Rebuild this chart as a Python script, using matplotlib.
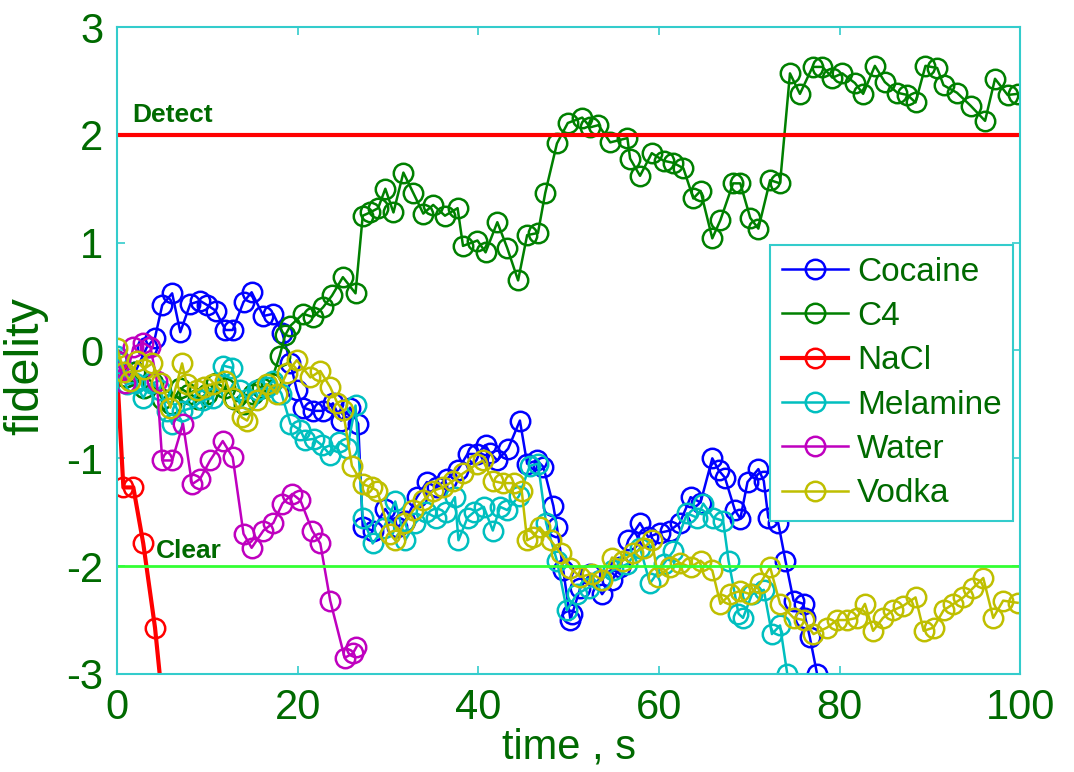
import matplotlib
matplotlib.use('Agg')
import matplotlib.pyplot as plt

plt.rcParams['font.family'] = ['Liberation Sans', 'DejaVu Sans']
plt.rcParams['axes.unicode_minus'] = False

# series (time s, fidelity)
cocaine_t = [0, 1, 2, 3.3, 4.2, 5.0, 6.1, 7.0, 8.1, 9.2,
             10.0, 10.9, 12.0, 12.8, 14.0, 14.9, 16.2, 17.3, 18.3, 19.2,
             19.9, 20.6, 21.7, 22.8, 23.9, 24.8, 25.8, 26.7, 27.2, 28.3,
             29.7, 31.0, 31.9, 33.2, 34.3, 35.4, 36.5, 37.7, 38.8, 39.9,
             40.8, 41.3, 42.1, 43.3, 44.6, 45.4, 46.5, 47.2, 48.3, 48.7,
             49.4, 50.2, 50.4, 51.3, 52.4, 53.7, 54.8, 55.7, 56.6, 57.9,
             58.8, 60.1, 61.2, 62.3, 63.5, 64.6, 65.9, 66.6, 67.3, 68.4,
             69.0, 69.8, 71.0, 71.6, 72.1, 73.2, 74.0, 74.9, 76.0, 76.2,
             76.7, 77.5, 78.2]
cocaine_y = [-0.1, -0.25, -0.2, 0.03, 0.12, 0.42, 0.53, 0.17, 0.43, 0.46,
             0.42, 0.37, 0.19, 0.19, 0.45, 0.54, 0.32, 0.34, 0.16, -0.12,
             -0.37, -0.53, -0.56, -0.56, -0.49, -0.65, -0.53, -0.68, -1.64, -1.67,
             -1.47, -1.64, -1.58, -1.36, -1.22, -1.27, -1.19, -1.11, -0.96, -0.96,
             -0.88, -0.95, -1.02, -0.91, -0.65, -1.05, -1.02, -1.08, -1.44, -1.64,
             -2.04, -2.5, -2.44, -2.2, -2.07, -2.26, -2.13, -2.01, -1.76, -1.6,
             -1.73, -1.69, -1.67, -1.6, -1.36, -1.41, -1.0, -1.11, -1.18, -1.48,
             -1.56, -1.22, -1.1, -1.21, -1.55, -1.6, -1.95, -2.32, -2.35, -2.48,
             -2.66, -3.0, -3.4]

c4_t = [0, 1, 2, 3, 4, 5, 6, 7, 8, 9,
        10, 11, 12, 13, 14, 15, 16, 17, 18, 18.6,
        19.2, 20.6, 21.7, 22.8, 23.8, 25.0, 26.4, 27.2, 28.0, 28.9,
        29.7, 30.6, 31.7, 32.8, 33.9, 35.0, 36.3, 37.7, 38.3, 39.9,
        40.8, 42.1, 43.2, 44.4, 45.4, 46.6, 47.4, 48.7, 49.9, 51.5,
        52.4, 53.3, 54.6, 56.5, 56.8, 57.9, 59.2, 60.5, 61.6, 62.7,
        63.8, 64.6, 65.9, 66.8, 68.2, 69.0, 70.1, 71.0, 72.3, 73.4,
        74.5, 75.6, 77.0, 78.1, 79.2, 80.3, 81.7, 82.6, 83.9, 85.0,
        86.4, 87.5, 88.4, 89.5, 90.8, 91.5, 93.0, 94.5, 96.1, 97.2,
        98.6, 99.7]
c4_y = [-0.1, -0.25, -0.2, -0.35, -0.3, -0.45, -0.5, -0.35, -0.4, -0.45,
        -0.4, -0.3, -0.35, -0.45, -0.5, -0.4, -0.35, -0.3, -0.05, 0.14,
        0.23, 0.34, 0.31, 0.4, 0.51, 0.68, 0.53, 1.25, 1.28, 1.32,
        1.5, 1.28, 1.65, 1.46, 1.27, 1.35, 1.25, 1.32, 0.97, 1.02,
        0.91, 1.19, 0.95, 0.65, 1.07, 1.09, 1.46, 1.92, 2.11, 2.16,
        2.07, 2.09, 1.93, 1.97, 1.78, 1.62, 1.83, 1.76, 1.74, 1.69,
        1.41, 1.48, 1.04, 1.21, 1.55, 1.55, 1.23, 1.13, 1.58, 1.55,
        2.57, 2.38, 2.63, 2.63, 2.53, 2.57, 2.48, 2.38, 2.64, 2.49,
        2.39, 2.37, 2.3, 2.64, 2.62, 2.46, 2.39, 2.27, 2.13, 2.52,
        2.37, 2.38]

nacl_t = [0, 0.7, 1.8, 2.9, 4.2, 5.2]
nacl_y = [-0.2, -1.27, -1.27, -1.79, -2.57, -3.4]

melamine_t = [0, 0.3, 1.1, 2.0, 2.9, 3.8, 4.8, 5.5, 6.1, 7.2,
              8.4, 9.5, 10.6, 11.7, 12.7, 13.6, 14.5, 15.5, 16.6, 17.3,
              18.2, 19.2, 20.3, 20.8, 21.8, 22.7, 23.6, 24.6, 25.5, 26.4,
              27.2, 28.3, 29.5, 30.8, 31.9, 33.0, 34.2, 35.3, 36.4, 37.4,
              37.8, 38.8, 39.5, 40.6, 41.6, 42.4, 43.2, 44.5, 45.7, 46.6,
              47.5, 48.7, 49.8, 50.9, 52.2, 53.5, 54.9, 56.5, 57.9, 59.0,
              60.5, 61.6, 63.1, 64.2, 64.9, 66.0, 67.1, 67.7, 68.8, 69.3,
              70.3, 71.6, 72.5, 73.4, 74.2]
melamine_y = [-0.05, -0.12, -0.31, -0.3, -0.44, -0.3, -0.37, -0.56, -0.68, -0.56,
              -0.53, -0.46, -0.44, -0.14, -0.16, -0.37, -0.45, -0.37, -0.34, -0.28,
              -0.4, -0.68, -0.74, -0.83, -0.82, -0.88, -0.97, -0.85, -0.9, -0.51,
              -1.55, -1.79, -1.65, -1.4, -1.76, -1.6, -1.5, -1.55, -1.5, -1.36,
              -1.76, -1.55, -1.5, -1.45, -1.67, -1.45, -1.48, -1.35, -1.07, -1.05,
              -1.6, -1.95, -2.41, -2.26, -2.2, -2.13, -2.04, -1.98, -1.83, -2.16,
              -1.98, -1.86, -1.51, -1.55, -1.42, -1.55, -1.58, -1.95, -2.44, -2.48,
              -2.26, -2.22, -2.63, -2.55, -3.0]

water_t = [0, 0.9, 1.8, 2.9, 3.7, 4.4, 5.0, 6.1, 7.3, 8.3,
           9.2, 10.3, 11.7, 12.8, 14.0, 14.9, 16.2, 17.3, 18.3, 19.4,
           20.3, 21.6, 22.5, 23.6, 25.2, 26.1, 26.5]
water_y = [-0.1, -0.3, 0.03, 0.07, 0.03, -0.28, -1.02, -1.02, -0.68, -1.24,
           -1.19, -1.02, -0.84, -0.99, -1.7, -1.83, -1.67, -1.6, -1.42, -1.33,
           -1.39, -1.67, -1.79, -2.32, -2.85, -2.81, -2.75]

vodka_t = [0, 0.8, 1.4, 2.2, 3.0, 3.9, 4.9, 5.9, 7.2, 7.7,
           8.9, 9.6, 10.6, 12.0, 12.8, 13.8, 14.4, 15.5, 16.6, 17.7,
           18.8, 19.9, 21.4, 22.5, 23.6, 24.4, 25.0, 26.0, 27.2, 28.2,
           28.8, 30.2, 30.8, 31.8, 32.8, 33.9, 35.0, 36.1, 37.2, 38.3,
           39.9, 40.5, 41.6, 42.7, 43.9, 44.8, 45.4, 46.1, 46.8, 48.0,
           49.1, 50.2, 51.3, 52.6, 53.7, 54.8, 56.0, 57.1, 58.3, 59.2,
           59.9, 61.2, 62.3, 63.5, 64.6, 65.9, 66.8, 67.9, 69.0, 70.1,
           71.2, 72.3, 73.4, 74.9, 76.0, 77.1, 78.6, 79.7, 80.8, 81.9,
           82.8, 83.7, 84.8, 85.9, 87.0, 88.4, 89.3, 90.4, 91.5, 92.6,
           93.7, 94.8, 95.9, 97.0, 98.1, 99.7]
vodka_y = [0.02, -0.2, -0.28, -0.1, -0.17, -0.12, -0.3, -0.53, -0.12, -0.31,
           -0.37, -0.34, -0.31, -0.28, -0.44, -0.62, -0.65, -0.46, -0.31, -0.4,
           -0.21, -0.09, -0.25, -0.19, -0.34, -0.49, -0.55, -1.07, -1.24, -1.27,
           -1.3, -1.7, -1.76, -1.6, -1.48, -1.39, -1.3, -1.27, -1.21, -1.14,
           -1.05, -1.02, -1.21, -1.23, -1.23, -1.3, -1.76, -1.73, -1.64, -1.76,
           -1.88, -2.02, -2.1, -2.07, -2.13, -1.92, -1.95, -1.88, -1.83, -1.76,
           -2.1, -2.01, -1.97, -2.01, -1.95, -2.04, -2.35, -2.26, -2.23, -2.26,
           -2.16, -2.01, -2.35, -2.48, -2.5, -2.63, -2.57, -2.5, -2.5, -2.48,
           -2.35, -2.6, -2.48, -2.41, -2.37, -2.29, -2.6, -2.57, -2.41, -2.35,
           -2.29, -2.2, -2.11, -2.48, -2.32, -2.34]

detect_level = 2
clear_level = -2

txt = '#006a00'
edge = '#33cccc'

fig = plt.figure(figsize=(10.74, 7.72), dpi=100)
ax = fig.add_axes([0.109, 0.127, 0.841, 0.838])

series = [
    ('Cocaine', cocaine_t, cocaine_y, '#0000ff', 1.8),
    ('C4', c4_t, c4_y, '#008000', 1.8),
    ('NaCl', nacl_t, nacl_y, '#ff0000', 3.0),
    ('Melamine', melamine_t, melamine_y, '#00bfbf', 1.8),
    ('Water', water_t, water_y, '#bf00bf', 1.8),
    ('Vodka', vodka_t, vodka_y, '#bfbf00', 1.8),
]
for name, t, y, col, lw in series:
    ax.plot(t, y, '-o', color=col, lw=lw, ms=14, mfc='none', mew=1.8, label=name)

ax.axhline(detect_level, color='#ff0000', lw=3)
ax.axhline(clear_level, color='#33ff33', lw=2)
ax.text(1.7, detect_level + 0.12, 'Detect', color=txt, fontsize=19, fontweight='bold')
ax.text(4.3, clear_level + 0.08, 'Clear', color=txt, fontsize=19, fontweight='bold')

ax.set_xlim(0, 100)
ax.set_ylim(-3, 3)
ax.set_xticks([0, 20, 40, 60, 80, 100])
ax.set_yticks([-3, -2, -1, 0, 1, 2, 3])
ax.tick_params(direction='in', top=True, right=True, length=6, width=1.2,
               colors=edge, labelcolor=txt, labelsize=30, pad=10)
for s in ax.spines.values():
    s.set_color(edge)
    s.set_linewidth(1.5)
ax.set_xlabel('time , s', color=txt, fontsize=30, labelpad=0)
ax.set_ylabel('fidelity', color=txt, fontsize=35)
ax.yaxis.set_label_coords(-0.076, 0.476)

leg = ax.legend(loc='upper left', bbox_to_anchor=(0.723, 0.663), borderaxespad=0,
                fontsize=24, handlelength=2.0, handletextpad=0.25, labelspacing=0.40,
                borderpad=0.35, fancybox=False, framealpha=1, edgecolor=edge)
leg.get_frame().set_linewidth(1.5)
for t in leg.get_texts():
    t.set_color(txt)

fig.savefig('out.png', dpi=100)
